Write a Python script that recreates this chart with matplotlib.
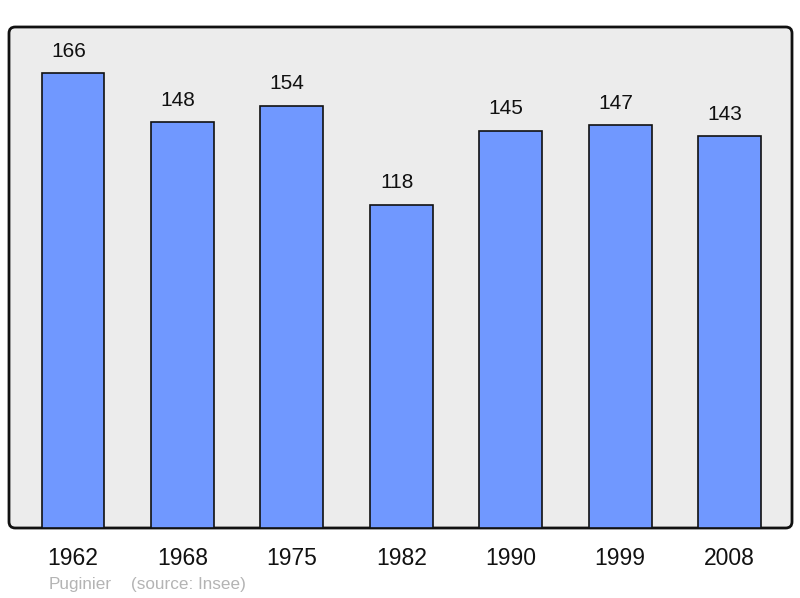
import matplotlib
matplotlib.use("Agg")
import matplotlib.pyplot as plt
from matplotlib.patches import FancyBboxPatch

years = ["1962", "1968", "1975", "1982", "1990", "1999", "2008"]
population = [166, 148, 154, 118, 145, 147, 143]

plt.rcParams['font.family'] = ['Liberation Sans', 'DejaVu Sans']

W, H = 800, 598
fig = plt.figure(figsize=(W / 100, H / 100), dpi=100)
ax_l, ax_r, ax_t, ax_b = 9, 792, 27, 528
ax = fig.add_axes([ax_l / W, (H - ax_b) / H, (ax_r - ax_l) / W, (ax_b - ax_t) / H])
ax.set_facecolor('none')

# rounded frame background
frame = FancyBboxPatch((0, 0), 1, 1,
                       boxstyle="round,pad=0,rounding_size=0.008",
                       transform=ax.transAxes, facecolor='#ececec',
                       edgecolor='#111111', linewidth=2, zorder=0, clip_on=False,
                       mutation_aspect=783 / 501)
ax.add_patch(frame)

x = list(range(len(years)))
ax.bar(x, population, width=0.575, color='#7098ff', edgecolor='#111111', linewidth=1.2, zorder=2)
for xi, v in zip(x, population):
    ax.annotate(str(v), (xi, v), xytext=(-3.3, 9), textcoords='offset points',
                ha='center', va='bottom', fontsize=15, color='#111111')

ax.set_xlim(-0.585, 6.57)
ax.set_ylim(0, 182.8)
for s in ax.spines.values():
    s.set_visible(False)
ax.set_yticks([])
ax.set_xticks(x)
ax.set_xticklabels(years, fontsize=16.5, color='#111111')
ax.tick_params(axis='x', length=0, pad=14)

fig.text(49 / W, 1 - 584 / H, "Puginier", fontsize=12.3,
         color='#b4b4b4', ha='left', va='center')
fig.text(131 / W, 1 - 584 / H, "(source: Insee)", fontsize=12.3,
         color='#b4b4b4', ha='left', va='center')

fig.savefig("out.png", dpi=100)
